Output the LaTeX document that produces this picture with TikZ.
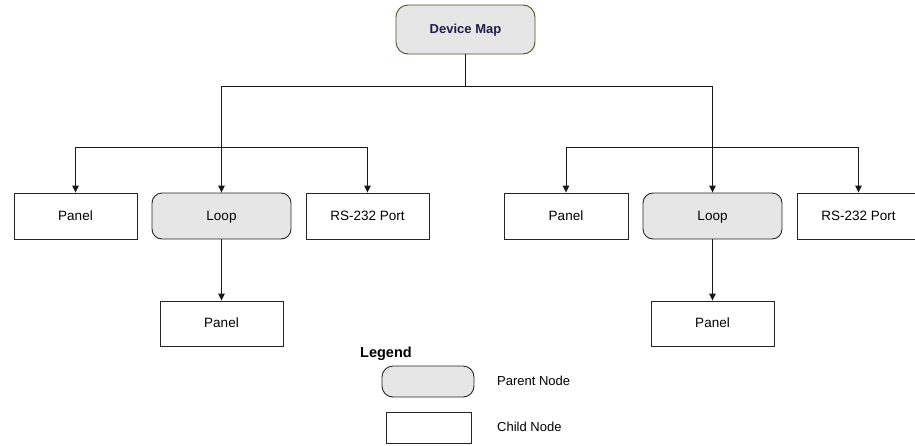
\documentclass[tikz,border=0pt]{standalone}
\usepackage{fontspec}
\setmainfont{Liberation Sans}
\usetikzlibrary{arrows.meta}
\definecolor{parentfill}{HTML}{E6E6E6}
\definecolor{dmborder}{HTML}{4A5528}
\definecolor{dmtext}{HTML}{1E1E4A}
\begin{document}
\begin{tikzpicture}[x=1pt,y=-1pt,
  every node/.style={font=\fontsize{13.5}{15}\selectfont, inner sep=0pt, text height=10.5pt, text depth=2.5pt},
  childbox/.style={draw=black!85, line width=0.9pt, fill=white, minimum width=123pt, minimum height=46pt},
  parentbox/.style={draw=black!85, line width=0.9pt, fill=parentfill, rounded corners=10pt, minimum width=139pt, minimum height=46pt},
  conn/.style={draw=black!90, line width=0.9pt},
  arr/.style={conn, -{Triangle[length=7pt,width=6.5pt]}}]
\useasboundingbox (0,0) rectangle (915,445);
% top node
\node[draw=dmborder, line width=0.9pt, fill=parentfill, rounded corners=12pt, minimum width=139pt, minimum height=49pt, text=dmtext, font=\fontsize{13}{15}\selectfont\bfseries] (dm) at (465.5,29.5) {Device Map};
% left group
\node[childbox] (lp) at (75.5,216) {Panel};
\node[parentbox] (ll) at (221.5,216) {Loop};
\node[childbox] (lr) at (367.5,216) {RS-232 Port};
\node[childbox, minimum height=45pt] (lpp) at (221.5,323.5) {Panel};
% right group
\node[childbox, minimum width=124pt] (rp) at (566,216) {Panel};
\node[parentbox] (rl) at (712.5,216) {Loop};
\node[childbox] (rr) at (858.5,216) {RS-232 Port};
\node[childbox, minimum height=45pt] (rpp) at (712.5,323.5) {Panel};
% connectors
\coordinate (top) at (465.5,86);
\coordinate (lj) at (221.5,147);
\coordinate (rj) at (712.5,147);
\draw[conn] (dm.south) -- (top);
\draw[conn] (ll.north |- top) -- (rl.north |- top);
\draw[arr] (ll.north |- top) -- (ll.north);
\draw[arr] (rl.north |- top) -- (rl.north);
\draw[arr] (lj) -| (lp.north);
\draw[arr] (lj) -| (lr.north);
\draw[arr] (rj) -| (rp.north);
\draw[arr] (rj) -| (rr.north);
\draw[arr] (ll.south) -- (lpp.north);
\draw[arr] (rl.south) -- (rpp.north);
% legend
\node[anchor=west, font=\fontsize{14.5}{16}\selectfont\bfseries] (lgt) at (360,353) {Legend};
\node[parentbox, minimum width=92pt, minimum height=31pt, rounded corners=11pt] (lgp) at (428,381.5) {};
\node[childbox, minimum width=85pt, minimum height=31pt] (lgc) at (428.5,427.5) {};
\node[anchor=west, font=\fontsize{13}{15}\selectfont] (lgpt) at (497,381) {Parent Node};
\node[anchor=west, font=\fontsize{13}{15}\selectfont] (lgct) at (497,427) {Child Node};
\end{tikzpicture}
\end{document}
